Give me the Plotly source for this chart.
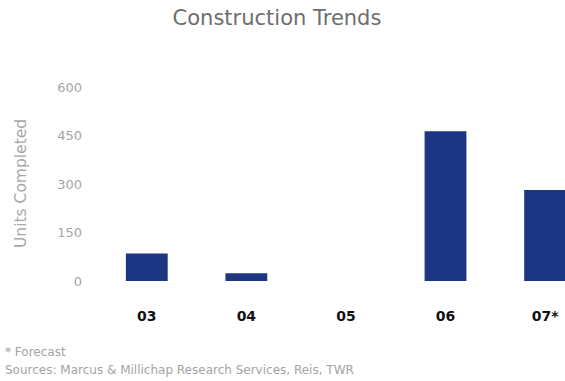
import plotly.graph_objects as go

# Construction completions by year (units)
years = ["03", "04", "05", "06", "07*"]
units = [85, 24, 0, 464, 282]
y_ticks = [0, 150, 300, 450, 600]

fig = go.Figure(
    go.Bar(
        x=list(range(len(years))),
        y=units,
        marker=dict(color="#1d3683", line=dict(width=0)),
        width=0.42,
    )
)

fig.update_layout(
    width=565,
    height=381,
    margin=dict(l=97, r=0, t=55, b=100),
    paper_bgcolor="white",
    plot_bgcolor="white",
    showlegend=False,
    title=dict(
        text="Construction Trends",
        x=277 / 565, xanchor="center", xref="container",
        y=1 - 18 / 381, yanchor="middle", yref="container",
        font=dict(family="DejaVu Sans", size=21, color="#6e6e6e"),
    ),
    xaxis=dict(
        range=[-0.5, 4.2],
        tickmode="array",
        tickvals=list(range(len(years))),
        ticktext=years,
        tickfont=dict(family="DejaVu Sans", size=14, color="#111111", weight="bold"),
        showgrid=False, zeroline=False, showline=False, ticks="",
        ticklabelstandoff=25,
    ),
    yaxis=dict(
        range=[0, 700],
        tickmode="array",
        tickvals=y_ticks,
        ticktext=[str(v) for v in y_ticks],
        tickfont=dict(family="DejaVu Sans", size=13, color="#a4a4a4"),
        showgrid=False, zeroline=False, showline=False, ticks="",
        ticklabelstandoff=14,
    ),
)

# Y-axis title, placed as a rotated label
fig.add_annotation(
    text="Units Completed", xref="paper", yref="paper",
    x=-(97 - 21) / 468, y=(281 - 184) / 226,
    xanchor="center", yanchor="middle", textangle=-90, showarrow=False,
    font=dict(family="DejaVu Sans", size=15.5, color="#a8a8a8"),
)

# Footnotes below the chart
footnotes = ["* Forecast", "Sources: Marcus & Millichap Research Services, Reis, TWR"]
for i, line in enumerate(footnotes):
    fig.add_annotation(
        text=line, xref="paper", yref="paper",
        x=-94 / 468, y=-(352 - 281) / 226 - i * 18 / 226,
        xanchor="left", yanchor="middle", showarrow=False,
        font=dict(family="DejaVu Sans", size=12, color="#a4a4a4"),
    )

fig.write_html("out.html")
